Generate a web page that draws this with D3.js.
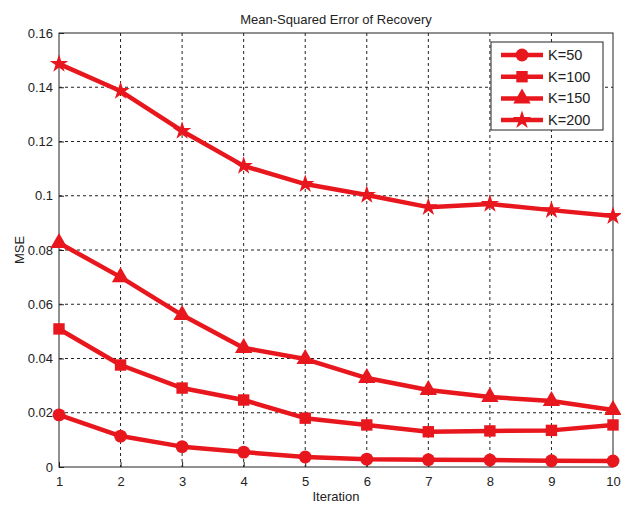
<!DOCTYPE html>
<html>
<head>
<meta charset="utf-8">
<script src="https://cdn.jsdelivr.net/npm/d3@7"></script>
<style>
  body { margin: 0; background: #fff; }
  svg text { font-family: "Liberation Sans", Arial, sans-serif; fill: #222; }
  .grid line { stroke: #222; stroke-dasharray: 3,3; stroke-width: 1; }
</style>
</head>
<body>
<div id="chart"></div>
<script>
var iterations = [1, 2, 3, 4, 5, 6, 7, 8, 9, 10];
var yTicks = [0, 0.02, 0.04, 0.06, 0.08, 0.1, 0.12, 0.14, 0.16];
var seriesNames = ["K=50", "K=100", "K=150", "K=200"];
var k50 = [0.0192, 0.0114, 0.0075, 0.0055, 0.0037, 0.0029, 0.0027, 0.0026, 0.0023, 0.0022];
var k100 = [0.0509, 0.0376, 0.0291, 0.0247, 0.018, 0.0155, 0.013, 0.0133, 0.0135, 0.0155];
var k150 = [0.0826, 0.070, 0.056, 0.0439, 0.0398, 0.0328, 0.0284, 0.0258, 0.0243, 0.021];
var k200 = [0.1486, 0.1386, 0.1239, 0.111, 0.1043, 0.1003, 0.0958, 0.097, 0.0947, 0.0925];
var symbols = [d3.symbolCircle, d3.symbolSquare, d3.symbolTriangle, d3.symbolStar];
var symSizes = [130, 130, 130, 105];

var red = "#e8161d";
var W = 621, H = 506;
var margin = { top: 33, right: 8, bottom: 39, left: 59 };
var width = W - margin.left - margin.right;
var height = H - margin.top - margin.bottom;

var svg = d3.select("#chart").append("svg")
    .attr("width", W)
    .attr("height", H);

var g = svg.append("g")
    .attr("transform", "translate(" + margin.left + "," + margin.top + ")");

var x = d3.scaleLinear().domain([1, 10]).range([0, width]);
var y = d3.scaleLinear().domain([0, 0.16]).range([height, 0]);

// grid
var grid = g.append("g").attr("class", "grid");
grid.selectAll(".gx").data(iterations.slice(1, -1)).enter().append("line")
    .attr("x1", function (d) { return x(d); }).attr("x2", function (d) { return x(d); })
    .attr("y1", 0).attr("y2", height);
grid.selectAll(".gy").data(yTicks.slice(1, -1)).enter().append("line")
    .attr("y1", function (d) { return y(d); }).attr("y2", function (d) { return y(d); })
    .attr("x1", 0).attr("x2", width);

// axes
var xAxis = g.append("g")
    .attr("transform", "translate(0," + height + ")")
    .call(d3.axisBottom(x).tickValues(iterations).tickSize(-5).tickPadding(10).tickFormat(d3.format("d")));
var yAxis = g.append("g")
    .call(d3.axisLeft(y).tickValues(yTicks).tickSize(-5).tickPadding(6).tickFormat(function (d) { return d === 0 ? "0" : String(+d.toFixed(2)); }));
[xAxis, yAxis].forEach(function (a) {
    a.select(".domain").remove();
    a.selectAll("line").attr("stroke", "#222");
    a.selectAll("text").style("font-size", "13px").attr("fill", "#222");
});

g.append("rect")
    .attr("width", width).attr("height", height)
    .attr("fill", "none").attr("stroke", "#222").attr("stroke-width", 1);

// lines
var line = d3.line()
    .x(function (d, i) { return x(iterations[i]); })
    .y(function (d) { return y(d); });

var allSeries = [k50, k100, k150, k200];
allSeries.forEach(function (vals, s) {
    g.append("path")
        .datum(vals)
        .attr("fill", "none")
        .attr("stroke", red)
        .attr("stroke-width", 4.5)
        .attr("stroke-linejoin", "round")
        .attr("d", line);
    g.selectAll(".m" + s).data(vals).enter().append("path")
        .attr("transform", function (d, i) { return "translate(" + x(iterations[i]) + "," + y(d) + ")"; })
        .attr("d", d3.symbol().type(symbols[s]).size(symSizes[s]))
        .attr("fill", red);
});

// legend
var legend = g.append("g").attr("transform", "translate(" + (491 - margin.left) + "," + (42 - margin.top) + ")");
legend.append("rect")
    .attr("width", 112).attr("height", 88)
    .attr("fill", "#fff").attr("stroke", "#222").attr("stroke-width", 1);
seriesNames.forEach(function (name, s) {
    var ly = 13 + s * 21.7;
    legend.append("line")
        .attr("x1", 10).attr("x2", 52).attr("y1", ly).attr("y2", ly)
        .attr("stroke", red).attr("stroke-width", 4.5);
    legend.append("path")
        .attr("transform", "translate(31," + ly + ")")
        .attr("d", d3.symbol().type(symbols[s]).size(symSizes[s]))
        .attr("fill", red);
    legend.append("text")
        .attr("x", 57).attr("y", ly + 5)
        .style("font-size", "14.5px")
        .text(name);
});

// titles
svg.append("text")
    .attr("x", margin.left + width / 2).attr("y", 24)
    .attr("text-anchor", "middle")
    .style("font-size", "13px")
    .text("Mean-Squared Error of Recovery");
svg.append("text")
    .attr("x", margin.left + width / 2).attr("y", 501)
    .attr("text-anchor", "middle")
    .style("font-size", "13px")
    .text("Iteration");
svg.append("text")
    .attr("transform", "translate(24," + (margin.top + height / 2) + ") rotate(-90)")
    .attr("text-anchor", "middle")
    .style("font-size", "13px")
    .text("MSE");
</script>
</body>
</html>
